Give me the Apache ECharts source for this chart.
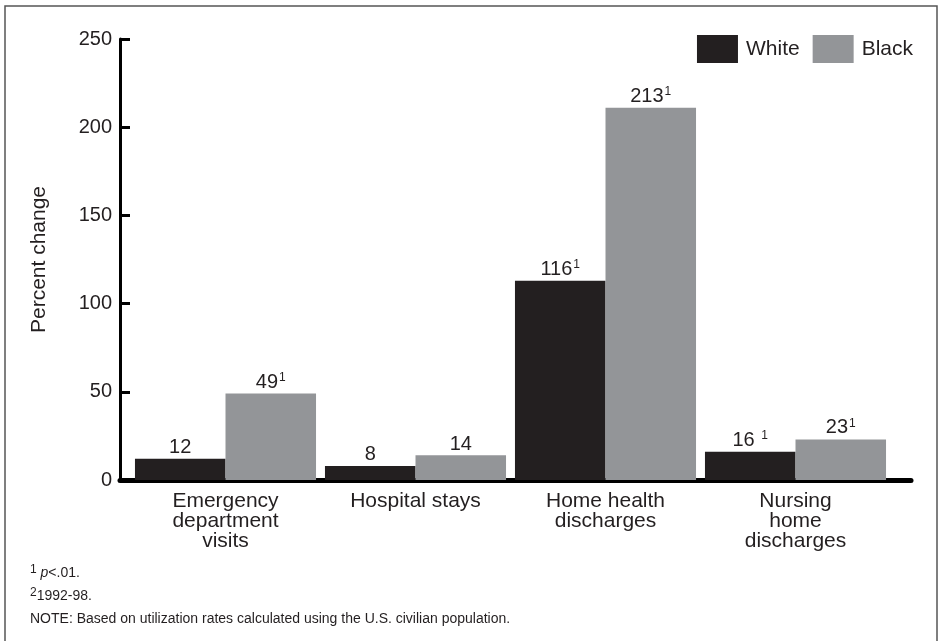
<!DOCTYPE html>
<html>
<head>
<meta charset="utf-8">
<script src="https://cdn.jsdelivr.net/npm/echarts@6/dist/echarts.min.js"></script>
<style>
body{margin:0;background:#fff;}
#main{width:940px;height:641px;}
</style>
</head>
<body>
<div id="main"></div>
<script>
// 类别与数据
var categories = ['Emergency\ndepartment\nvisits', 'Hospital stays', 'Home health\ndischarges', 'Nursing\nhome\ndischarges'];
var whiteValues = [12, 8, 113, 16];
var blackValues = [49, 14, 211, 23];
var whiteLabels = ['12', '8', '116{s|1}', '16 {s|1}'];
var blackLabels = ['49{s|1}', '14', '213{s|1}', '23{s|1}'];
var yTicks = [0, 50, 100, 150, 200, 250];

var font = 'Liberation Sans, Arial, Helvetica, sans-serif';
var ink = '#231f20';

var myChart = echarts.init(document.getElementById('main'));

function barLabel(labels){
	return {
		show: true,
		position: 'top',
		distance: 1,
		color: ink,
		fontFamily: font,
		fontSize: 20,
		formatter: function(p){ return labels[p.dataIndex]; },
		rich: {
			s: {fontSize: 12, fontFamily: font, color: ink, padding: [0, 0, 9, 1]}
		}
	};
}

var option = {
	animation: false,
	textStyle: {fontFamily: font},
	graphic: [{
		type: 'rect',
		shape: {x: 5, y: 6, width: 932, height: 700},
		style: {fill: null, stroke: '#555', lineWidth: 1.5},
		silent: true
	}],
	title: {
		left: 30,
		top: 562,
		padding: 0,
		text: '{s|1} {i|p}<.01.\n{s|2}1992-98.\nNOTE: Based on utilization rates calculated using the U.S. civilian population.',
		textStyle: {
			fontFamily: font,
			fontSize: 14,
			fontWeight: 'normal',
			color: ink,
			lineHeight: 23,
			rich: {
				s: {fontSize: 12, fontFamily: font, color: ink, padding: [0, 0, 7, 0]},
				i: {fontSize: 14, fontFamily: font, color: ink, fontStyle: 'italic'}
			}
		}
	},
	legend: {
		right: 27,
		top: 35,
		padding: 0,
		itemWidth: 41,
		itemHeight: 28,
		itemGap: 13,
		icon: 'rect',
		data: ['White', 'Black'],
		textStyle: {fontFamily: font, fontSize: 21, color: ink, padding: [0, 0, 0, 3]}
	},
	grid: [
		{left: 120, right: 29, top: 39, bottom: 161},
		{left: 130.5, right: 49.5, top: 39, bottom: 161}
	],
	xAxis: [{
		gridIndex: 0,
		type: 'value',
		min: 0,
		max: 1,
		axisLine: {show: true, lineStyle: {color: '#000', width: 5}},
		axisTick: {show: false},
		axisLabel: {show: false},
		splitLine: {show: false}
	}, {
		gridIndex: 1,
		type: 'category',
		data: categories,
		axisLine: {show: false},
		axisTick: {show: false},
		axisLabel: {
			color: ink,
			fontFamily: font,
			fontSize: 21,
			lineHeight: 20,
			margin: 11,
			interval: 0
		}
	}],
	yAxis: [{
		gridIndex: 0,
		type: 'value',
		min: yTicks[0],
		max: yTicks[yTicks.length - 1],
		interval: 50,
		name: 'Percent change',
		nameLocation: 'middle',
		nameRotate: 90,
		nameGap: 70,
		nameTextStyle: {fontFamily: font, fontSize: 21, color: ink},
		axisLine: {show: true, lineStyle: {color: '#000', width: 3}},
		axisTick: {show: true, inside: true, length: 10, lineStyle: {color: '#000', width: 3}},
		axisLabel: {color: ink, fontFamily: font, fontSize: 20, margin: 8},
		splitLine: {show: false}
	}, {
		gridIndex: 1,
		type: 'value',
		min: 0,
		max: 250,
		show: false
	}],
	series: [{
		name: 'White',
		type: 'bar',
		xAxisIndex: 1,
		yAxisIndex: 1,
		barGap: '0%',
		barCategoryGap: '4.7%',
		itemStyle: {color: ink},
		label: barLabel(whiteLabels),
		data: whiteValues
	}, {
		name: 'Black',
		type: 'bar',
		xAxisIndex: 1,
		yAxisIndex: 1,
		barGap: '0%',
		barCategoryGap: '4.7%',
		itemStyle: {color: '#939598'},
		label: barLabel(blackLabels),
		data: blackValues
	}]
};
myChart.setOption(option);
</script>
</body>
</html>
